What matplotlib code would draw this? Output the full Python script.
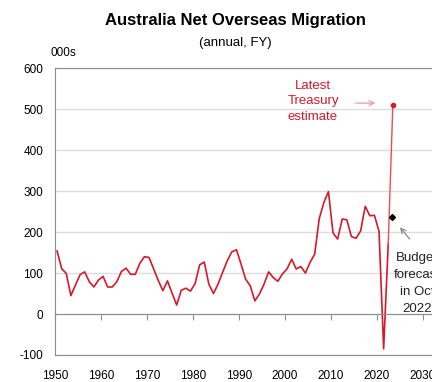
import numpy as np
import matplotlib
matplotlib.use('Agg')
import matplotlib.pyplot as plt

plt.rcParams['font.family'] = ['Liberation Sans', 'DejaVu Sans']
plt.rcParams['font.size'] = 9
plt.rcParams['axes.unicode_minus'] = False

# financial year (year ending), net overseas migration in 000s
fy = list(range(1950, 2023))
nom = [154, 111, 99, 45, 71, 96, 103, 79, 66, 83, 92, 66, 66, 79, 104, 112, 97, 97, 124, 140,
       138, 110, 82, 57, 81, 51, 22, 58, 63, 56, 74, 120, 127, 73, 50, 73, 102, 130, 152, 157,
       122, 85, 69, 32, 49, 73, 103, 89, 80, 98, 110, 134, 110, 116, 100, 126, 146, 233, 272, 299,
       198, 183, 232, 230, 189, 185, 203, 263, 240, 241, 202, -85, 171]
est_fy = [2022, 2023]
est_val = [171, 510]
budget_fy = [2023]
budget_val = [236]

xoff = 0.45
red = '#d41a2c'
grey = '#8c8c8c'

fig = plt.figure(figsize=(4.32, 3.82), dpi=100)
ax = fig.add_axes([0.1273, 0.0707, 0.905, 0.7505])

ax.set_xlim(1950, 2035)
ax.set_ylim(-100, 600)
ax.set_yticks(np.arange(-100, 601, 100))
ax.yaxis.grid(True, color='#dcdcdc', lw=1.0)
ax.set_axisbelow(True)
ax.tick_params(axis='y', length=0, pad=8.5, labelsize=8.5)

for s in ['left', 'top', 'right']:
    ax.spines[s].set_color(grey)
ax.spines['bottom'].set_position(('data', 0))
ax.spines['bottom'].set_color(grey)
ax.set_xticks(np.arange(1950, 2036, 10))
ax.tick_params(axis='x', direction='out', length=4, color=grey, labelbottom=False)

sec = ax.secondary_xaxis('bottom')
sec.set_xticks(np.arange(1950, 2036, 10))
sec.tick_params(length=0, pad=10.5, labelsize=8.5)
sec.spines['bottom'].set_color(grey)

ax.plot(np.array(fy) + xoff, nom, color=red, lw=1.2, solid_joinstyle='round')
ax.plot(np.array(est_fy) + xoff, est_val, color='#ee4a5b', lw=1.0)
ax.plot(est_fy[-1] + xoff, est_val[-1], 'o', color=red, ms=3)
ax.plot(np.array(budget_fy) + xoff - 0.15, budget_val, 'D', color='black', ms=3)

ax.text(2006.1, 519, 'Latest\nTreasury\nestimate', color=red, ha='center', va='center',
        fontsize=9.5, linespacing=1.4)
ax.annotate('', xy=(2020.3, 515), xytext=(2014.8, 515),
            arrowprops=dict(arrowstyle='->', color='#f2a0a8', lw=1.0))

ax.text(2028.7, 74, 'Budget\nforecast\nin Oct\n2022', color='#222222', ha='center', va='center',
        fontsize=9.5, linespacing=1.55)
ax.annotate('', xy=(2024.6, 217), xytext=(2027.5, 178),
            arrowprops=dict(arrowstyle='->', color=grey, lw=0.9))

fig.text(0.545, 0.947, 'Australia Net Overseas Migration', ha='center', va='center',
         fontsize=12, fontweight='bold')
fig.text(0.545, 0.887, '(annual, FY)', ha='center', va='center', fontsize=9.5)
fig.text(0.116, 0.861, '000s', ha='left', va='center', fontsize=8.5)

fig.savefig('out.png', dpi=100)
